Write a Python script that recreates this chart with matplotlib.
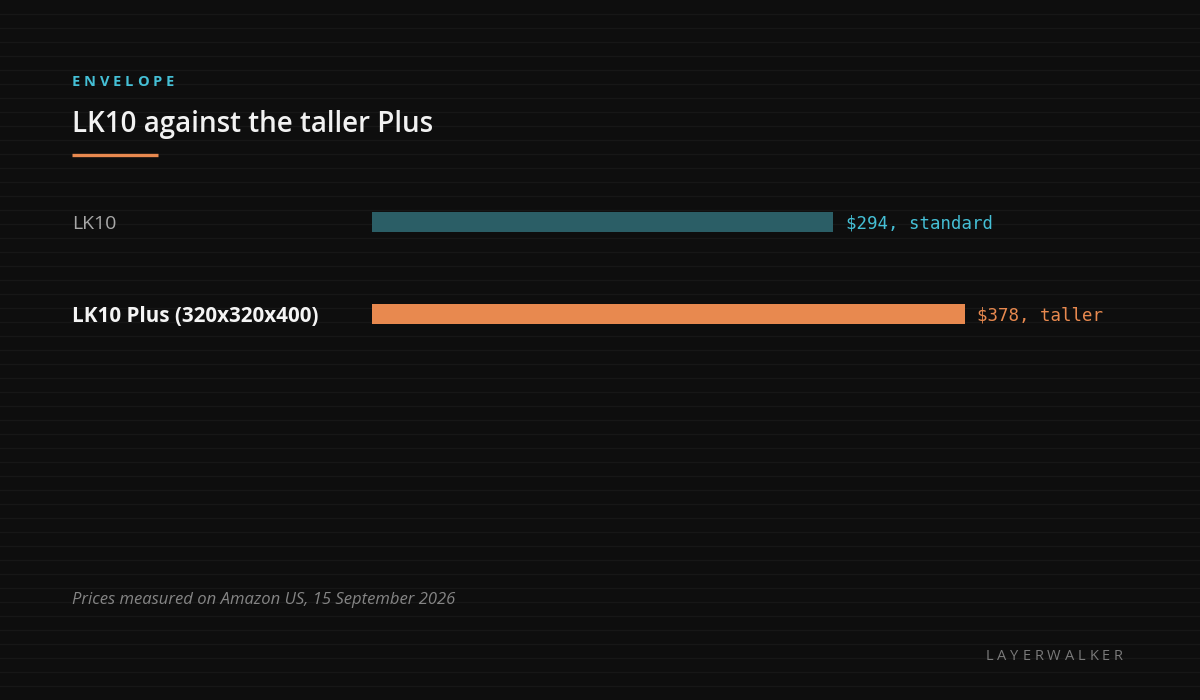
import matplotlib
matplotlib.use('Agg')
import matplotlib.pyplot as plt
import matplotlib.transforms as mtransforms

# data
labels = ['LK10', 'LK10 Plus (320x320x400)']
prices = [294, 378]
notes = ['standard', 'taller']

BG = '#0e0e0e'
SCAN = '#171717'
TEAL = '#2b5e66'
ORANGE = '#e8894f'
CYAN = '#45c0d6'
bar_colors = [TEAL, ORANGE]
text_colors = [CYAN, ORANGE]
label_colors = ['#a8a8a8', '#f4f4f4']
label_weights = ['normal', 'bold']
label_sizes = [14, 14.9]

W, H = 1200, 700
SANS = ['Open Sans', 'DejaVu Sans']
MONO = ['DejaVu Sans Mono']


def fx(x):
    return x / W


def fy(y):
    return 1 - y / H


def spaced_text(fig, x, y, s, spacing_px, align='left', **kw):
    # draw a string one char at a time to get letter spacing
    renderer = fig.canvas.get_renderer()
    widths = []
    for ch in s:
        t = fig.text(0, 0, ch, **kw)
        widths.append(t.get_window_extent(renderer).width)
        t.remove()
    total = sum(widths) + spacing_px * (len(s) - 1)
    cx = x - total if align == 'right' else x
    for ch, w in zip(s, widths):
        fig.text(fx(cx), fy(y), ch, va='baseline', ha='left', **kw)
        cx += w + spacing_px


fig = plt.figure(figsize=(12, 7), dpi=100, facecolor=BG)

# faint scanlines
for yy in range(14, H, 14):
    fig.add_artist(plt.Line2D([0, 1], [fy(yy), fy(yy)], color=SCAN, lw=1,
                              transform=fig.transFigure, zorder=0))

# bar axes: x from 372 to 1128 px, y from 176 to 360 px
ax = fig.add_axes([fx(372), fy(360), fx(1128 - 372), (360 - 176) / H])
ax.set_facecolor('none')
ypos = list(range(len(labels)))
ax.barh(ypos, prices, height=20 / 92, color=bar_colors, zorder=3)
ax.set_xlim(0, 482)
ax.set_ylim(len(labels) - 0.5, -0.5)
ax.axis('off')

for i, (p, n) in enumerate(zip(prices, notes)):
    ax.annotate(f'${p}, {n}', xy=(p, i), xytext=(9, 0), textcoords='offset points',
                va='center_baseline', ha='left', fontsize=12.5, family=MONO,
                color=text_colors[i])

# category labels, left aligned at 72 px
trans = mtransforms.blended_transform_factory(fig.transFigure, ax.transData)
for i, lab in enumerate(labels):
    fig.text(fx(72), i, lab, transform=trans, va='center_baseline', ha='left',
             fontsize=label_sizes[i], family=SANS, color=label_colors[i],
             fontweight=label_weights[i])

# header
spaced_text(fig, 72, 86, 'ENVELOPE', 3.7, fontsize=10.5, family=SANS,
            fontweight='bold', color=CYAN)
fig.text(fx(72), fy(132), 'LK10 against the taller Plus', va='baseline', ha='left',
         fontsize=20, family=SANS, fontweight='semibold', color='#f2f2f2')
fig.add_artist(plt.Line2D([fx(72), fx(158)], [fy(154.5), fy(154.5)], color=ORANGE,
                          lw=2.4, solid_capstyle='butt', transform=fig.transFigure))

# footer
fig.text(fx(72), fy(604), 'Prices measured on Amazon US, 15 September 2026',
         va='baseline', ha='left', fontsize=12, family=SANS, style='italic',
         color='#858585')
spaced_text(fig, 1123, 660, 'LAYERWALKER', 3.9, align='right', fontsize=10.5,
            family=SANS, color='#7a7a7a')

fig.savefig('out.png', dpi=100, facecolor=BG)
